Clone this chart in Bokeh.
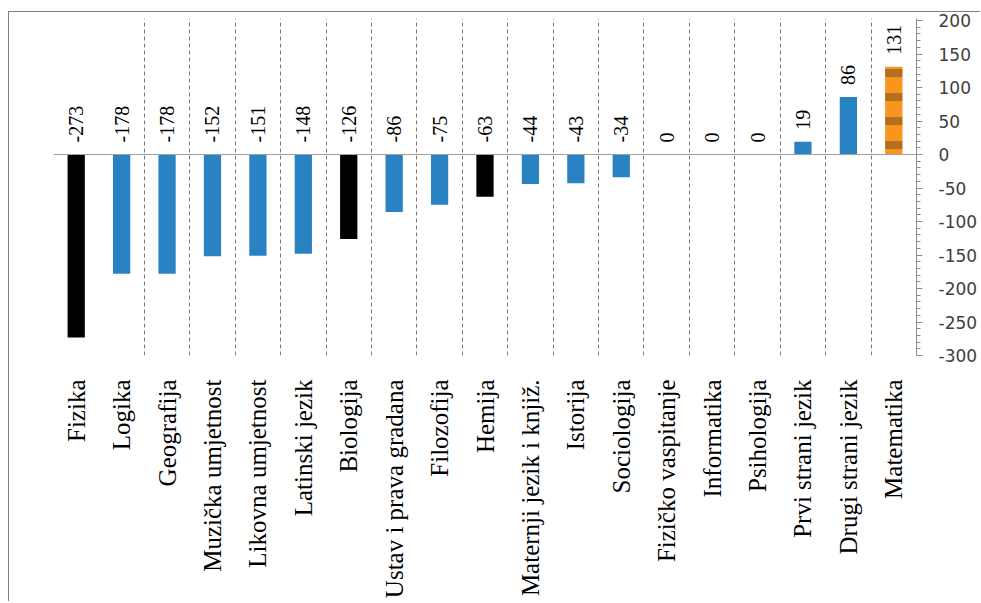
from math import pi
from bokeh.plotting import figure
from bokeh.models import (ColumnDataSource, Range1d, FixedTicker, SingleIntervalTicker,
                          Grid, Span)
from bokeh.core.properties import value
from bokeh.embed import file_html
from bokeh.resources import INLINE

categories = ["Fizika", "Logika", "Geografija", "Muzička umjetnost", "Likovna umjetnost",
              "Latinski jezik", "Biologija", "Ustav i prava gradana", "Filozofija", "Hemija",
              "Maternji jezik i knjiž.", "Istorija", "Sociologija", "Fizičko vaspitanje",
              "Informatika", "Psihologija", "Prvi strani jezik", "Drugi strani jezik",
              "Matematika"]
values = [-273, -178, -178, -152, -151, -148, -126, -86, -75, -63, -44, -43, -34,
          0, 0, 0, 19, 86, 131]
y_tick_labels = ["-300", "-250", "-200", "-150", "-100", "-50", "0", "50", "100", "150", "200"]
y_ticks_interval = 50

BLUE = "#2983C3"
BLACK = "#000000"
black_set = {"Fizika", "Biologija", "Hemija"}

xs = list(range(len(categories)))
colors = [BLACK if c in black_set else BLUE for c in categories]

p = figure(width=972, height=590, output_backend="svg", toolbar_location=None,
           x_range=Range1d(-0.5, len(categories) - 0.5), y_range=Range1d(-300, 203),
           y_axis_location="right", min_border_left=44, min_border_right=65,
           min_border_top=6, min_border_bottom=247, background_fill_color="white",
           border_fill_color="white")
p.margin = (11, 0, 0, 8)
p.styles = {"border-top": "1px solid #7f7f7f", "border-left": "1px solid #7f7f7f"}
p.outline_line_color = None
p.xgrid.visible = False
p.ygrid.visible = False

# dashed separators between categories
sep = Grid(dimension=0, ticker=FixedTicker(ticks=[i + 0.5 for i in xs[1:-1]]),
           grid_line_color="#7a7a7a", grid_line_dash="4 3", grid_line_width=1)
p.add_layout(sep)

main = [i for i, c in enumerate(categories) if c != "Matematika"]
src = ColumnDataSource(dict(x=[xs[i] for i in main], top=[values[i] for i in main],
                            color=[colors[i] for i in main]))
p.vbar(x="x", top="top", bottom=0, width=0.38, source=src, fill_color="color",
       line_color=None)

mi = categories.index("Matematika")
msrc = ColumnDataSource(dict(x=[xs[mi]], top=[values[mi]]))
p.vbar(x="x", top="top", bottom=0, width=0.38, source=msrc, fill_color="#F7961E",
       line_color=None, hatch_pattern="horizontal_line", hatch_color="#8A5520",
       hatch_alpha=0.6, hatch_scale=24, hatch_weight=8)

zero = Span(location=0, dimension="width", line_color="#a0a0a0", line_width=1.2)
p.add_layout(zero)

lsrc = ColumnDataSource(dict(x=xs, y=[max(v, 0) for v in values],
                             t=[str(v) for v in values]))
p.text(x="x", y="y", text="t", source=lsrc, angle=pi / 2, text_align="left",
       text_baseline="middle", y_offset=-12, text_font=value("Liberation Serif"),
       text_font_size="20px", text_color="black")

# x axis (categories)
xa = p.xaxis[0]
xa.ticker = FixedTicker(ticks=xs)
xa.major_label_overrides = {i: c for i, c in zip(xs, categories)}
xa.major_label_orientation = pi / 2
xa.major_label_text_font = "Liberation Serif"
xa.major_label_text_font_size = "25px"
xa.major_label_text_color = "black"
xa.major_label_standoff = 18
xa.axis_line_color = None
xa.major_tick_line_color = None
xa.minor_tick_line_color = None

# y axis on right
ya = p.yaxis[0]
ya.ticker = SingleIntervalTicker(interval=y_ticks_interval, num_minor_ticks=5)
ya.major_label_overrides = {int(s): s for s in y_tick_labels}
ya.axis_line_color = "#8c8c8c"
ya.major_tick_line_color = "#8c8c8c"
ya.minor_tick_line_color = "#8c8c8c"
ya.major_tick_in = 0
ya.major_tick_out = 6
ya.minor_tick_in = 0
ya.minor_tick_out = 4
ya.major_label_standoff = 16
ya.major_label_text_font = "DejaVu Sans"
ya.major_label_text_font_size = "17px"
ya.major_label_text_color = "#404040"

open("out.html", "w").write(file_html(p, INLINE))
